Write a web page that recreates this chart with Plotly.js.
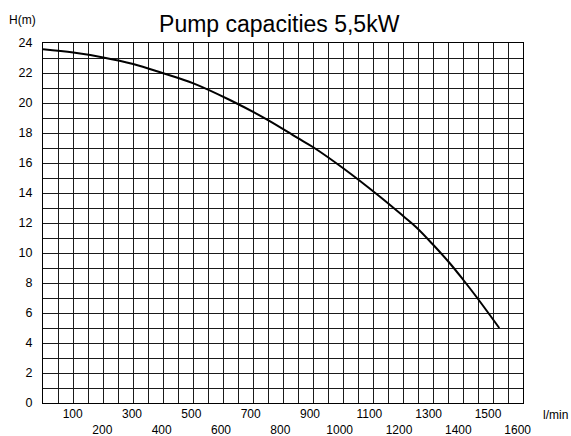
<!DOCTYPE html>
<html>
<head>
<meta charset="utf-8">
<script src="https://cdn.plot.ly/plotly-3.0.1.min.js"></script>
<style>html,body{margin:0;padding:0;background:#fff;}#chart{width:571px;height:436px;}</style>
</head>
<body>
<div id="chart"></div>
<script>
// Flow rate (l/min) and head (m)
const flowQ = [0, 102, 203, 304, 405, 507, 630, 754, 855, 911, 1012, 1136, 1215, 1259, 1316, 1372, 1417, 1462, 1538];
const headH = [23.58, 23.36, 23.04, 22.6, 21.98, 21.31, 20.2, 18.91, 17.71, 17.05, 15.65, 13.75, 12.45, 11.7, 10.53, 9.3, 8.2, 7.05, 5.0];

// x tick labels are staggered on two rows (even hundreds on the lower row)
const xTickVals = [100, 200, 300, 400, 500, 600, 700, 800, 900, 1000, 1100, 1200, 1300, 1400, 1500, 1600];
const xTickLabels = ['100', '<br>200', '300', '<br>400', '500', '<br>600', '700', '<br>800',
                     '900', '<br>1000', '1100', '<br>1200', '1300', '<br>1400', '1500', '<br>1600'];
const yTickVals = [0, 2, 4, 6, 8, 10, 12, 14, 16, 18, 20, 22, 24];

const xMax = 1618;
const gridCols = 32;
const gridColor = '#1a1a1a';

const trace = {
  x: flowQ, y: headH, type: 'scatter', mode: 'lines',
  line: {color: '#000', width: 2, shape: 'spline', smoothing: 1},
  hoverinfo: 'skip'
};

const layout = {
  width: 571, height: 436,
  margin: {l: 43, r: 48, t: 43, b: 33},
  paper_bgcolor: '#fff', plot_bgcolor: '#fff',
  showlegend: false,
  font: {family: 'Liberation Sans, Arial, sans-serif', color: '#000', size: 12},
  title: {
    text: 'Pump capacities 5,5kW',
    font: {size: 23, color: '#000', family: 'Liberation Sans, Arial, sans-serif'},
    xref: 'container', yref: 'container', x: 0.489, y: 0.945,
    xanchor: 'center', yanchor: 'middle'
  },
  xaxis: {
    range: [0, xMax], fixedrange: true,
    tickmode: 'array', tickvals: xTickVals, ticktext: xTickLabels, tickangle: 0,
    ticks: '', showgrid: false, zeroline: false,
    showline: true, linecolor: '#000', linewidth: 1, mirror: true,
    ticklabelstandoff: 0,
    tickfont: {size: 12, color: '#000'},
    minor: {tickmode: 'linear', tick0: 0, dtick: xMax / gridCols, showgrid: true,
            gridcolor: gridColor, gridwidth: 1, ticks: ''}
  },
  yaxis: {
    range: [0, 24], fixedrange: true,
    tickmode: 'array', tickvals: yTickVals,
    ticks: '', showgrid: true, gridcolor: gridColor, gridwidth: 1, zeroline: false,
    showline: true, linecolor: '#000', linewidth: 1, mirror: true,
    ticklabelstandoff: 7,
    tickfont: {size: 12.5, color: '#000'},
    minor: {tickmode: 'linear', tick0: 0, dtick: 1, showgrid: true,
            gridcolor: gridColor, gridwidth: 1, ticks: ''}
  },
  annotations: [
    {text: 'H(m)', xref: 'paper', yref: 'paper', x: -0.042, y: 1.0, yshift: 23,
     xanchor: 'center', yanchor: 'middle', showarrow: false,
     font: {size: 12, color: '#000'}},
    {text: 'l/min', xref: 'paper', yref: 'paper', x: 1.0, y: 0, xshift: 18, yshift: -12,
     xanchor: 'left', yanchor: 'middle', showarrow: false,
     font: {size: 12, color: '#000'}}
  ]
};

Plotly.newPlot('chart', [trace], layout, {displayModeBar: false, staticPlot: true});
</script>
</body>
</html>
